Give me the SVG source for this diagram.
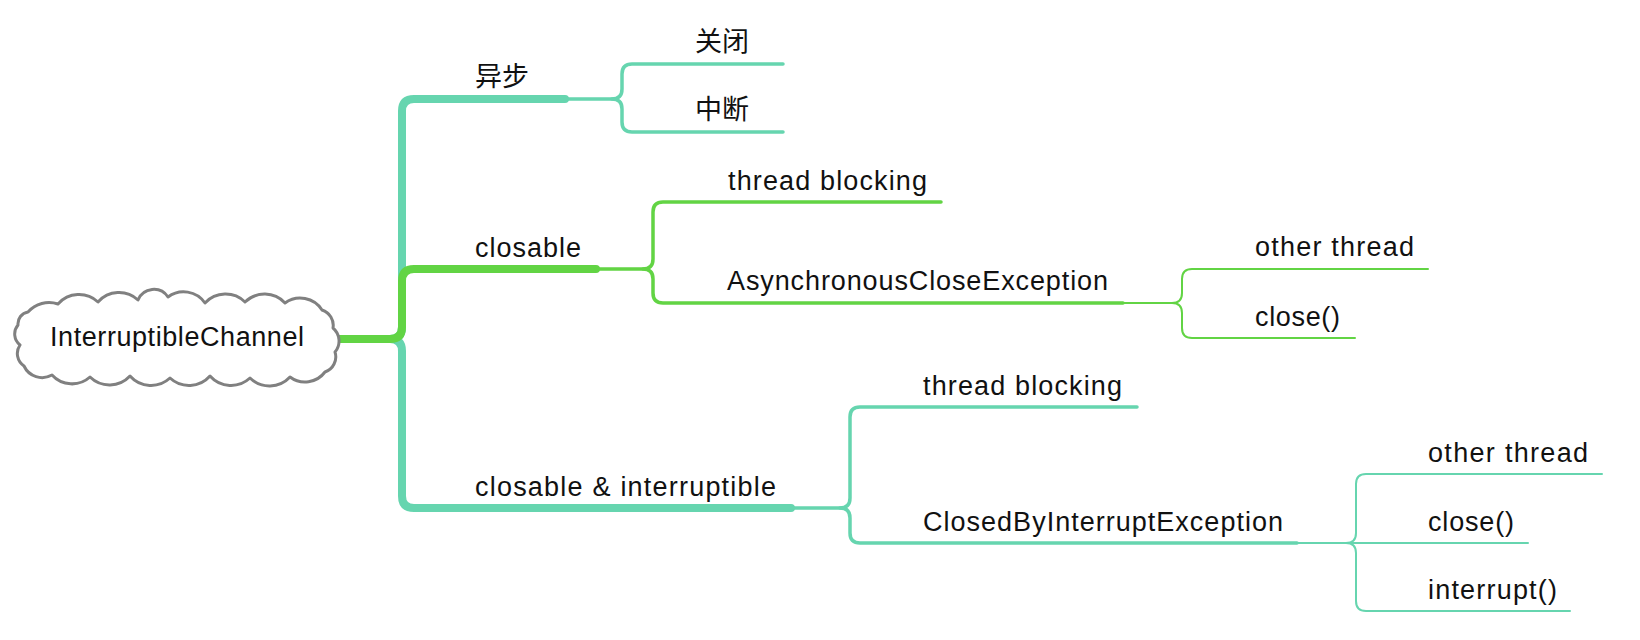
<svg xmlns="http://www.w3.org/2000/svg" width="1640" height="640" viewBox="0 0 1640 640">
<style>
.t{font-family:"Liberation Sans","Noto Sans CJK SC",sans-serif;font-size:27px;fill:#111}
.teal{stroke:#66d5af;fill:none;stroke-linecap:round;stroke-linejoin:round}
.green{stroke:#62d444;fill:none;stroke-linecap:round;stroke-linejoin:round}
.l1{stroke-width:8}
.l2{stroke-width:3.5}
.l3{stroke-width:2}
.cloud{fill:#fff;stroke:#808080;stroke-width:3;stroke-linejoin:round}
</style>
<rect width="1640" height="640" fill="#fff"/>
<g id="connectors">
<path class="teal l1" d="M320,339 H390 Q402,339 402,327 V111 Q402,99 414,99 H565"/>
<path class="teal l1" d="M320,339 H390 Q402,339 402,351 V496 Q402,508 414,508 H791"/>
<path class="green l1" d="M320,339 H390 Q402,339 402,327 V281 Q402,269 414,269 H596"/>
<path class="teal l2" d="M565,99 H612 Q622,99 622,89 V74 Q622,64 632,64 H783"/>
<path class="teal l2" d="M612,99 Q622,99 622,109 V122 Q622,132 632,132 H783"/>
<path class="green l2" d="M596,269 H643 Q653,269 653,259 V212 Q653,202 663,202 H941"/>
<path class="green l2" d="M643,269 Q653,269 653,279 V293 Q653,303 663,303 H1123"/>
<path class="green l3" d="M1123,303 H1172 Q1182,303 1182,293 V279 Q1182,269 1192,269 H1428"/>
<path class="green l3" d="M1172,303 Q1182,303 1182,313 V328 Q1182,338 1192,338 H1355"/>
<path class="teal l2" d="M791,508 H840 Q850,508 850,498 V417 Q850,407 860,407 H1137"/>
<path class="teal l2" d="M840,508 Q850,508 850,518 V533 Q850,543 860,543 H1297"/>
<path class="teal l3" d="M1297,543 H1346 Q1356,543 1356,533 V484 Q1356,474 1366,474 H1602"/>
<path class="teal l3" d="M1297,543 H1528"/>
<path class="teal l3" d="M1346,543 Q1356,543 1356,553 V601 Q1356,611 1366,611 H1570"/>
</g>
<g id="root">
<path class="cloud" d="M28,312 A28,28 0 0 1 58,304 A28,28 0 0 1 98,302 A28,28 0 0 1 138,300 A17,17 0 0 1 168,297 A26,26 0 0 1 205,303 A28,28 0 0 1 245,302 A28,28 0 0 1 285,303 A26,26 0 0 1 322,310 A16,16 0 0 1 333,328 A17,17 0 0 1 335,352 A16,16 0 0 1 325,372 A25,25 0 0 1 290,377 A28,28 0 0 1 250,378 A28,28 0 0 1 210,376 A28,28 0 0 1 170,378 A28,28 0 0 1 130,376 A28,28 0 0 1 90,377 A27,27 0 0 1 52,375 A20,20 0 0 1 24,366 A15,15 0 0 1 20,345 A14,14 0 0 1 18,325 A12,12 0 0 1 28,312 Z"/>
<text class="t" x="50" y="346" textLength="254" lengthAdjust="spacing">InterruptibleChannel</text>
</g>
<g id="n-async"><text class="t" x="475" y="86">异步</text></g>
<g id="n-close-cn"><text class="t" x="695" y="51">关闭</text></g>
<g id="n-interrupt-cn"><text class="t" x="695" y="119">中断</text></g>
<g id="n-closable"><text class="t" x="475" y="257" textLength="106" lengthAdjust="spacing">closable</text></g>
<g id="n-tb1"><text class="t" x="728" y="190" textLength="199" lengthAdjust="spacing">thread blocking</text></g>
<g id="n-ace"><text class="t" x="727" y="290" textLength="381" lengthAdjust="spacing">AsynchronousCloseException</text></g>
<g id="n-ot1"><text class="t" x="1255" y="256" textLength="159" lengthAdjust="spacing">other thread</text></g>
<g id="n-close1"><text class="t" x="1255" y="326" textLength="85" lengthAdjust="spacing">close()</text></g>
<g id="n-ci"><text class="t" x="475" y="496" textLength="301" lengthAdjust="spacing">closable &amp; interruptible</text></g>
<g id="n-tb2"><text class="t" x="923" y="395" textLength="199" lengthAdjust="spacing">thread blocking</text></g>
<g id="n-cbie"><text class="t" x="923" y="531" textLength="360" lengthAdjust="spacing">ClosedByInterruptException</text></g>
<g id="n-ot2"><text class="t" x="1428" y="462" textLength="160" lengthAdjust="spacing">other thread</text></g>
<g id="n-close2"><text class="t" x="1428" y="531" textLength="86" lengthAdjust="spacing">close()</text></g>
<g id="n-int2"><text class="t" x="1428" y="599" textLength="129" lengthAdjust="spacing">interrupt()</text></g>
</svg>
